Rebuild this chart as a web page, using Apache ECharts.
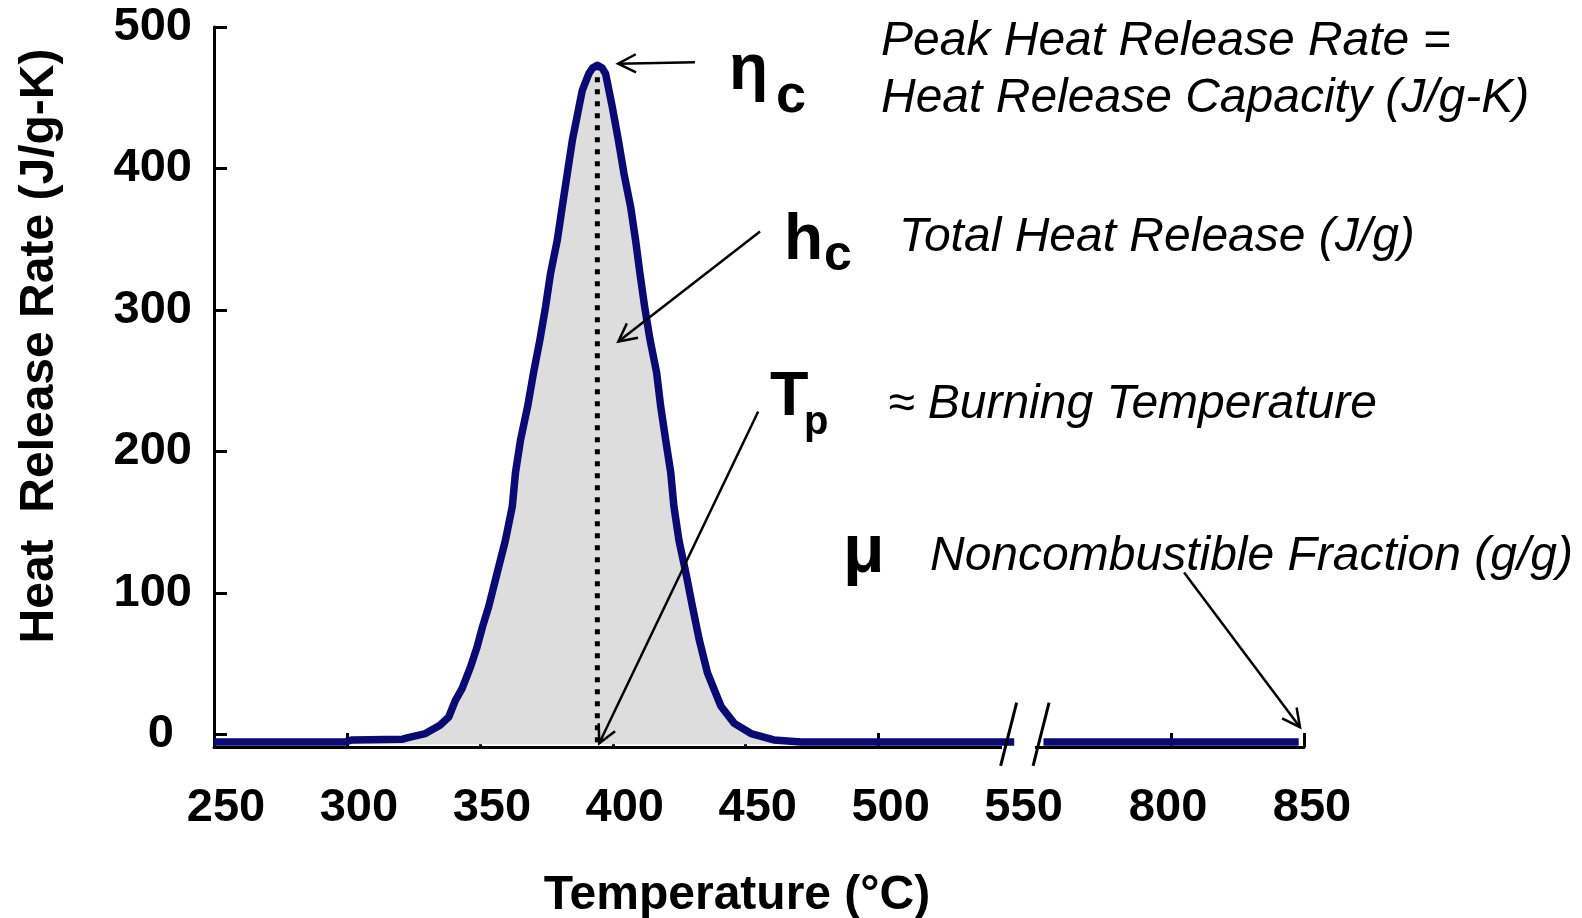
<!DOCTYPE html>
<html>
<head>
<meta charset="utf-8">
<title>Heat Release Rate</title>
<script src="https://cdn.jsdelivr.net/npm/echarts@6/dist/echarts.min.js"></script>
<style>
  html, body { margin: 0; padding: 0; background: #fff; }
  #chart { width: 1582px; height: 918px; }
</style>
</head>
<body>
<div id="chart"></div>
<script>
// temperature (°C) and heat release rate (J/g-K)
const tempMain = [250, 299, 302, 321, 323, 329.5, 335, 338.3, 340.8, 343.3, 346.5, 349, 351, 353.3,
  356.5, 359.6, 362.2, 363.4, 365.3, 368, 370.2, 372.6, 374.7, 376.6, 379.1, 381, 382.9, 384.8,
  387.3, 388.5, 391, 392.4, 394.2, 396, 397.3, 399.8, 402.1, 404.2, 406.7, 408.6, 410.2, 412, 414, 416.5,
  418, 419.9, 421.8, 423, 424.9, 427.5, 430, 432.5, 435.6, 440.7, 445.7, 452, 460.6, 470.8, 551];
const hrrMain = [-5.5, -5.5, -4, -3.5, -2.4, 0.5, 6.4, 12.2, 24, 32.3, 47.6, 62, 76, 90,
  114, 137, 161, 185, 208, 232, 255.6, 279, 302, 326, 349, 373, 396.5, 420,
  443.6, 455, 467, 471, 473, 471, 467, 443.6, 420, 396.5, 373, 349, 326, 302, 279, 255.6,
  232, 208, 185, 161, 137, 114, 90, 67, 43.5, 19.8, 7.7, 0.5, -4, -5.4, -5.5];
const tempTail = [752, 848];
const hrrTail = [-5.5, -5.5];

const xLabelValues = [250, 300, 350, 400, 450, 500, 550, 800, 850];
const xTickValues = [300, 350, 400, 450, 500, 800, 850];
const yTickValues = [0, 100, 200, 300, 400, 500];

const TP = 394.2;        // peak temperature
const PEAK_HRR = 473;    // peak heat release rate
const Y_MIN = -9;

// the axis is broken between 550 and 800: the right part is shifted left
const BREAK_SHIFT = 190;
const toAxis = (t) => (t >= 700 ? t - BREAK_SHIFT : t);
const fromAxis = (v) => (v > 600 ? v + BREAK_SHIFT : v);

// annotation arrows, [temperature, hrr] from tail to tip
const arrows = [
  { from: [430.9, 475], to: [402, 474.1] },
  { from: [455.4, 355.5], to: [402.1, 277.7] },
  { from: [454.7, 228.2], to: [394.9, -6.4] },
  { from: [804.9, 114.3], to: [848.5, 5] },
];

const FONT = "'Liberation Sans', Arial, Helvetica, sans-serif";
const NAVY = "#0a0a72";

const chart = echarts.init(document.getElementById("chart"));

const labelRich = {
  l: { fontFamily: FONT, fontSize: 47, fontWeight: "bold", color: "#000", padding: [0, 0, 0, 24] },
  m: { fontFamily: FONT, fontSize: 47, fontWeight: "bold", color: "#000", padding: [0, 6, 0, 0] },
  r: { fontFamily: FONT, fontSize: 47, fontWeight: "bold", color: "#000", padding: [0, 0, 0, 16] },
};

const option = {
  animation: false,
  grid: { left: 214, right: 278, top: 27, bottom: 171, containLabel: false, outerBoundsMode: "none" },
  xAxis: {
    type: "value",
    min: 250,
    max: toAxis(850),
    name: "Temperature (°C)",
    nameLocation: "middle",
    nameGap: 125,
    nameTextStyle: { fontFamily: FONT, fontSize: 48, fontWeight: "bold", color: "#000", padding: [0, 44, 0, 0] },
    axisLine: { onZero: false, lineStyle: { color: "#000", width: 3 } },
    axisTick: {
      inside: true,
      length: 14,
      customValues: xTickValues.map(toAxis),
      lineStyle: { color: "#000", width: 3 },
    },
    axisLabel: {
      customValues: xLabelValues.map(toAxis),
      margin: 38,
      formatter: function (v) {
        const t = Math.round(fromAxis(v));
        if (t === 800) return "{m|" + t + "}";
        if (t === 850) return "{r|" + t + "}";
        return "{l|" + t + "}";
      },
      rich: labelRich,
    },
    splitLine: { show: false },
  },
  yAxis: {
    type: "value",
    min: Y_MIN,
    max: 500,
    name: "Heat  Release Rate (J/g-K)",
    nameLocation: "middle",
    nameGap: 150,
    nameTextStyle: { fontFamily: FONT, fontSize: 48, fontWeight: "bold", color: "#000", padding: [0, 0, 0, 82] },
    axisLine: { lineStyle: { color: "#000", width: 3 } },
    axisTick: {
      inside: true,
      length: 13,
      customValues: yTickValues,
      lineStyle: { color: "#000", width: 3 },
    },
    axisLabel: {
      customValues: yTickValues,
      margin: 22,
      formatter: function (v) {
        return v === 0 ? "{z|0}" : "{y|" + v + "}";
      },
      rich: {
        y: { fontFamily: FONT, fontSize: 47, fontWeight: "bold", color: "#000" },
        z: { fontFamily: FONT, fontSize: 47, fontWeight: "bold", color: "#000", padding: [0, 18, 0, 0] },
      },
    },
    splitLine: { show: false },
  },
  series: [
    {
      name: "area",
      type: "line",
      data: tempMain.map((t, i) => [toAxis(t), hrrMain[i]]),
      symbol: "none",
      lineStyle: { width: 0 },
      areaStyle: { color: "#dddddd", opacity: 1, origin: -7 },
    },
    {
      name: "Tp",
      type: "line",
      data: [[TP, PEAK_HRR], [TP, Y_MIN + 1]],
      symbol: "none",
      lineStyle: { color: "#000", width: 5, type: [5, 7] },
    },
    {
      name: "HRR",
      type: "line",
      data: tempMain.map((t, i) => [toAxis(t), hrrMain[i]]),
      symbol: "none",
      lineStyle: { color: NAVY, width: 7.5, join: "round" },
    },
    {
      name: "HRR tail",
      type: "line",
      data: tempTail.map((t, i) => [toAxis(t), hrrTail[i]]),
      symbol: "none",
      lineStyle: { color: NAVY, width: 7.5 },
    },
  ],
};

chart.setOption(option);

// break marks, arrows and annotation texts
const px = (t, v) => chart.convertToPixel({ gridIndex: 0 }, [toAxis(t), v]);
const elements = [];

const gapL = px(546.4, Y_MIN);
const gapR = px(558.8 + BREAK_SHIFT, Y_MIN);
elements.push({
  type: "rect",
  z: 1,
  shape: { x: gapL[0], y: gapL[1] - 3, width: gapR[0] - gapL[0], height: 6 },
  style: { fill: "#fff" },
});
[548.9, 561.1 + BREAK_SHIFT].forEach((t) => {
  const c = px(t, 0);
  elements.push({
    type: "line",
    z: 5,
    shape: { x1: c[0] + 8, y1: c[1] - 31.7, x2: c[0] - 8, y2: c[1] + 31.7 },
    style: { stroke: "#000", lineWidth: 3 },
  });
});

arrows.forEach((a) => {
  const p0 = px(a.from[0], a.from[1]);
  const p1 = px(a.to[0], a.to[1]);
  const dx = p1[0] - p0[0];
  const dy = p1[1] - p0[1];
  const len = Math.sqrt(dx * dx + dy * dy);
  const ux = dx / len;
  const uy = dy / len;
  const L = 20;
  const th = (27 * Math.PI) / 180;
  const arm = (s) => [
    p1[0] - L * (ux * Math.cos(th) - s * uy * Math.sin(th)),
    p1[1] - L * (uy * Math.cos(th) + s * ux * Math.sin(th)),
  ];
  elements.push({
    type: "line",
    z: 5,
    shape: { x1: p0[0], y1: p0[1], x2: p1[0], y2: p1[1] },
    style: { stroke: "#000", lineWidth: 2.5 },
  });
  elements.push({
    type: "polyline",
    z: 5,
    shape: { points: [arm(1), p1, arm(-1)] },
    style: { stroke: "#000", lineWidth: 2.5, fill: null },
  });
});

const text = (str, x, y, size, bold, italic) => ({
  type: "text",
  z: 5,
  x: x,
  y: y,
  style: {
    text: str,
    fill: "#000",
    font: (italic ? "italic " : "") + (bold ? "bold " : "") + size + "px " + FONT,
    align: "left",
    verticalAlign: "middle",
  },
});

elements.push(text("Peak Heat Release Rate =", 881, 42, 48, false, true));
elements.push(text("Heat Release Capacity (J/g-K)", 881, 99, 48, false, true));
elements.push(text("Total Heat Release (J/g)", 899, 238, 48, false, true));
elements.push(text("\u2248 Burning Temperature", 888, 405, 48, false, true));
elements.push(text("Noncombustible Fraction (g/g)", 930, 557, 48, false, true));

elements.push(text("\u03b7", 729, 71, 64, true, false));
elements.push(text("c", 776, 97, 54, true, false));
elements.push(text("h", 784, 241, 64, true, false));
elements.push(text("c", 824, 256, 50, true, false));
elements.push(text("T", 770, 398, 63, true, false));
elements.push(text("p", 804, 423, 40, true, false));
elements.push(text("\u03bc", 843, 553, 68, true, false));

chart.setOption({ graphic: { elements: elements } });
</script>
</body>
</html>
